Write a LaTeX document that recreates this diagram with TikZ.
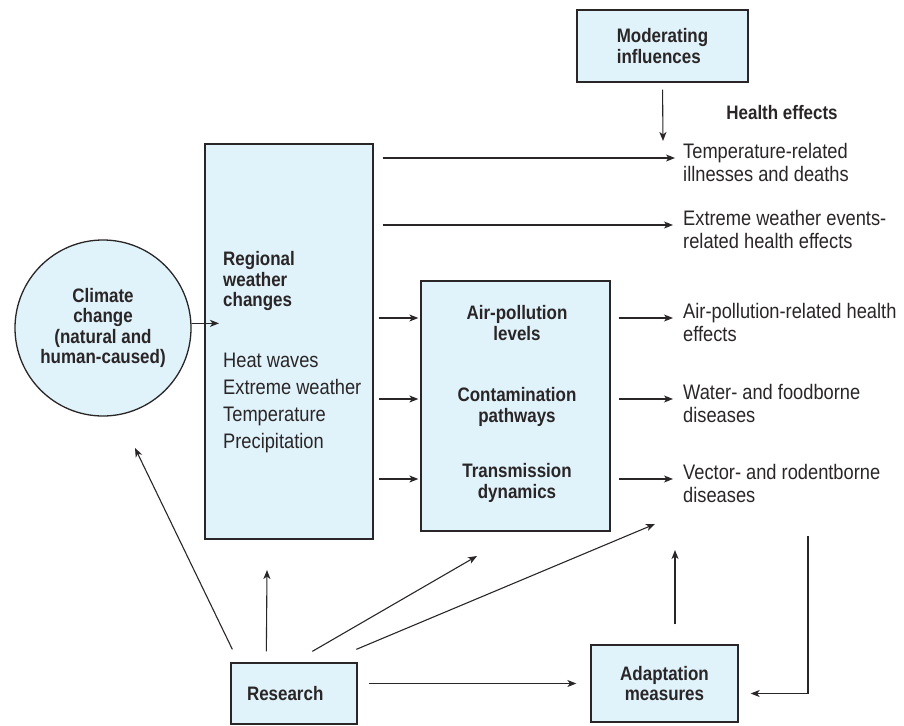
\documentclass[tikz,border=0pt]{standalone}
\usepackage{fontspec}
\setmainfont{Liberation Sans}[FakeStretch=0.87]
\usepackage{tikz}
\usetikzlibrary{arrows.meta}

\definecolor{boxblue}{HTML}{E0F2FA}
\definecolor{inkgray}{HTML}{2A2627}

\newcommand{\bfsz}{\fontsize{19.5}{20.5}\selectfont\bfseries}
\newcommand{\rgsz}{\fontsize{21}{23}\selectfont}
\newcommand{\lstsz}{\fontsize{21}{27}\selectfont}

\begin{document}
\begin{tikzpicture}[x=1pt,y=-1pt,font=\rgsz,text=inkgray,
                    >={Stealth[length=9pt,width=7pt,inset=2.5pt]},
                    conn/.style={->,draw=inkgray,line width=1.1pt}]
            \useasboundingbox (0,0) rectangle (904,725);

            \begin{scope}[every node/.style={draw=inkgray,line width=1.3pt,fill=boxblue,inner sep=0pt}]
                \node[circle,minimum size=176pt,font=\bfsz,align=center] (clim) at (103,328) {Climate\\change\\(natural and\\human-caused)};
                \node[minimum width=168pt,minimum height=395pt] (reg) at (289,341.5) {};
                \node[minimum width=189pt,minimum height=250pt] (pol) at (515.5,406) {};
                \node[minimum width=171pt,minimum height=72pt,font=\bfsz,align=left] (modr) at (662.5,46) {Moderating\\influences};
                \node[minimum height=61pt,text width=94pt,inner xsep=16pt,font=\bfsz,align=left] (res) at (294,693.5) {Research};
                \node[minimum width=147pt,minimum height=77pt,font=\bfsz,align=center] (adap) at (664.5,683.5) {Adaptation\\measures};
            \end{scope}

            \begin{scope}[every node/.style={inner sep=0pt,anchor=west,align=left}]
                \node[font=\bfsz] (regt) at (223,281) {Regional\\weather\\changes};
                \node[font=\lstsz] (regl) at (223,402.5) {Heat waves\\Extreme weather\\Temperature\\Precipitation};
                \node[font=\bfsz,anchor=center,align=center] (airl) at (517,323) {Air-pollution\\levels};
                \node[font=\bfsz,anchor=center,align=center] (conl) at (517,407) {Contamination\\pathways};
                \node[font=\bfsz,anchor=center,align=center] (trnl) at (517,483) {Transmission\\dynamics};
                \node[font=\bfsz,anchor=center] (hfx) at (782,113) {Health effects};
                \node (tmp) at (683,162) {Temperature-related\\illnesses and deaths};
                \node (ext) at (683,229) {Extreme weather events-\\related health effects};
                \node (apx) at (683,322) {Air-pollution-related health\\effects};
                \node (wfd) at (683,403) {Water- and foodborne\\diseases};
                \node (vrd) at (683,483) {Vector- and rodentborne\\diseases};
            \end{scope}

            % arrow tips on the health effects side
            \coordinate (a1) at (675,158);
            \coordinate (a2) at (673,225);
            \coordinate (a3) at (673,318);
            \coordinate (a4) at (673,399);
            \coordinate (a5) at (673,479);
            \coordinate (m1) at (663,141);
            % research and adaptation arrow tips
            \coordinate (r1) at (135,448);
            \coordinate (r2) at (267,570);
            \coordinate (r3) at (477,556);
            \coordinate (r4) at (655,524);
            \coordinate (u1) at (675,550);
            \coordinate (fb) at (808,536);

            \draw[conn,shorten >=4pt] (clim.3) -- (clim.3 -| regt.west);
            \draw[conn,shorten <=7pt] (modr.south) -- (m1);
            \draw[conn,shorten <=9pt] (reg.east |- a1) -- (a1);
            \draw[conn,shorten <=9pt] (reg.east |- a2) -- (a2);
            \foreach \i in {3,4,5} {
                \draw[conn,shorten <=5pt,shorten >=2pt] (reg.east |- a\i) -- (pol.west |- a\i);
                \draw[conn,shorten <=8pt] (pol.east |- a\i) -- (a\i);
            }

            \draw[conn] ([shift={(2,-13)}]res.north west) -- (r1);
            \draw[conn] ([shift={(36,-11)}]res.north west) -- (r2);
            \draw[conn] ([shift={(82,-11)}]res.north west) -- (r3);
            \draw[conn] ([shift={(126,-13)}]res.north west) -- (r4);
            \draw[conn,shorten <=11pt,shorten >=14pt] (res.east |- adap.west) -- (adap.west);
            \draw[conn,shorten <=20pt] (adap.north -| u1) -- (u1);
            \draw[conn,shorten >=12pt] (fb) |- ([yshift=-10pt]adap.east);
\end{tikzpicture}
\end{document}
